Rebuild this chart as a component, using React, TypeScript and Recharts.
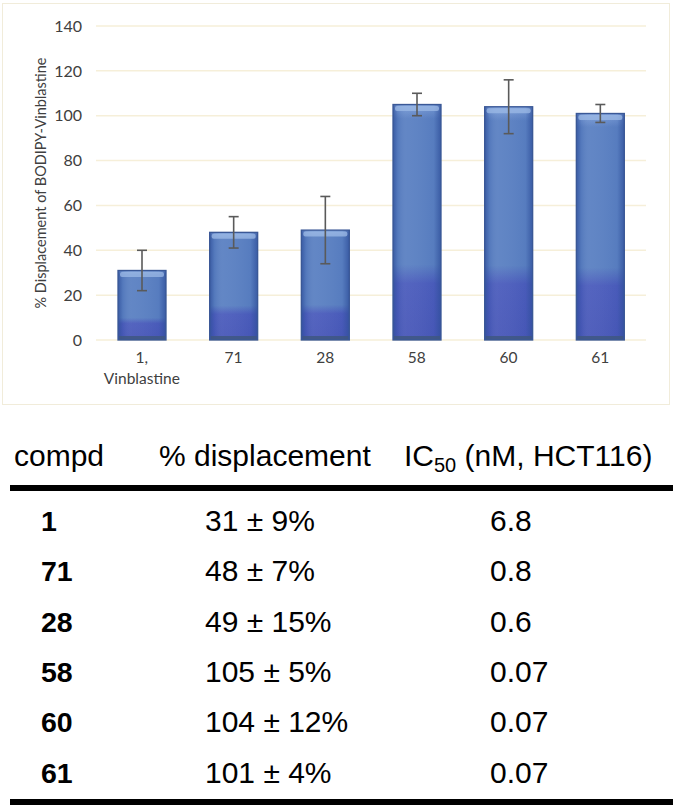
import React from "react";
import { BarChart, Bar, XAxis, YAxis, CartesianGrid, ErrorBar } from "recharts";

const categories = ["1,\nVinblastine", "71", "28", "58", "60", "61"];
const compounds = ["1", "71", "28", "58", "60", "61"];
const displacement = [31, 48, 49, 105, 104, 101];
const displacementErr = [9, 7, 15, 5, 12, 4];
const ic50 = ["6.8", "0.8", "0.6", "0.07", "0.07", "0.07"];
const yTicks = [0, 20, 40, 60, 80, 100, 120, 140];

const chartData = categories.map((c, i) => ({ name: c, value: displacement[i], err: displacementErr[i] }));

const tickFont = "Lato, 'Open Sans', sans-serif";
const tableFont = "'Liberation Sans', Arial, sans-serif";

function XTick(props: any) {
  const { x, y, payload } = props;
  const lines = String(payload.value).split("\n");
  return (
    <text x={x} y={y} textAnchor="middle" fill="#404040" fontSize={15.5} fontFamily={tickFont}>
      {lines.map((l, i) => (
        <tspan key={i} x={x} dy={i === 0 ? 15 : 21}>{l}</tspan>
      ))}
    </text>
  );
}

function YLabel(props: any) {
  const vb = props.viewBox || {};
  const cx = vb.x - 6;
  const cy = vb.y + vb.height / 2;
  return (
    <text x={cx} y={cy} transform={`rotate(-90, ${cx}, ${cy})`} textAnchor="middle" dominantBaseline="central"
      fill="#404040" fontSize={14.5} fontFamily={tickFont}>
      % Displacement of BODIPY-Vinblastine
    </text>
  );
}

function BarShape(p: any) {
  const { x, y, width, height } = p;
  if (!height || height <= 0) return null;
  return (
    <g>
      <rect x={x} y={y} width={width} height={height} fill="url(#barFill)" />
      <rect x={x} y={y} width={width} height={height} fill="url(#barSides)" />
      <rect x={x + 2} y={y + 1.5} width={width - 4} height={5} rx={2} fill="#9cb9e6" opacity={0.75} />
      <rect x={x + 1} y={y + height - 4} width={width - 2} height={4} fill="#3e5781" opacity={0.85} />
      <rect x={x} y={y} width={width} height={height} fill="none" stroke="#3a5896" strokeWidth={1.3} />
    </g>
  );
}

function Row({ top, children }: { top: number; children: React.ReactNode }) {
  return <div style={{ position: "absolute", left: 0, top, width: 677, height: 50, lineHeight: "50px" }}>{children}</div>;
}

export default function App() {
  const rowTop = 496;
  const rowStep = 50.3;
  return (
    <div style={{ position: "absolute", left: 0, top: 0, width: 677, height: 807, background: "#fff", overflow: "hidden" }}>
      <div style={{ position: "absolute", left: 2, top: 3, width: 668, height: 402, border: "1px solid #f1ecda", boxSizing: "border-box" }} />
      <div style={{ position: "absolute", left: 0, top: 0 }}>
        <BarChart width={677} height={410} data={chartData} margin={{ top: 26, right: 31, left: 46, bottom: 20 }}
          barCategoryGap="24%">
          <defs>
            <linearGradient id="barFill" x1="0" y1="0" x2="0" y2="1">
              <stop offset="0%" stopColor="#7c9ed8" />
              <stop offset="6%" stopColor="#5a80c2" />
              <stop offset="68%" stopColor="#5a80c2" />
              <stop offset="76%" stopColor="#4b5cbc" />
              <stop offset="100%" stopColor="#4857b8" />
            </linearGradient>
            <linearGradient id="barSides" x1="0" y1="0" x2="1" y2="0">
              <stop offset="0%" stopColor="#2f4f9a" stopOpacity={0.75} />
              <stop offset="10%" stopColor="#2f4f9a" stopOpacity={0.15} />
              <stop offset="30%" stopColor="#ffffff" stopOpacity={0.05} />
              <stop offset="85%" stopColor="#2f4f9a" stopOpacity={0.08} />
              <stop offset="100%" stopColor="#2f4f9a" stopOpacity={0.75} />
            </linearGradient>
          </defs>
          <CartesianGrid vertical={false} stroke="#f6efd9" strokeWidth={1.5} />
          <XAxis dataKey="name" axisLine={false} tickLine={false} height={50} interval={0} tick={<XTick />} />
          <YAxis domain={[0, 140]} ticks={yTicks} width={50} axisLine={false} tickLine={false} tickSize={0} tickMargin={14}
            tick={{ fill: "#404040", fontSize: 16, fontFamily: tickFont }} label={<YLabel />} />
          <Bar dataKey="value" isAnimationActive={false} shape={<BarShape />}>
            <ErrorBar dataKey="err" width={5} stroke="#5a5a5a" strokeWidth={1.6} direction="y" isAnimationActive={false} />
          </Bar>
        </BarChart>
      </div>

      {/* table */}
      <div style={{ position: "absolute", left: 0, top: 436, width: 677, height: 40, lineHeight: "40px", fontFamily: tableFont, fontSize: 30, color: "#000" }}>
        <span style={{ position: "absolute", left: 14 }}>compd</span>
        <span style={{ position: "absolute", left: 159 }}>% displacement</span>
        <span style={{ position: "absolute", left: 404 }}>
          IC<sub style={{ fontSize: 20, verticalAlign: "-6px", lineHeight: 0 }}>50</sub> (nM, HCT116)
        </span>
      </div>
      <div style={{ position: "absolute", left: 10, top: 485, width: 663, height: 6, background: "#000" }} />
      <div style={{ fontFamily: tableFont, fontSize: 30, color: "#000" }}>
        {compounds.map((c, i) => (
          <Row key={c} top={rowTop + i * rowStep}>
            <span style={{ position: "absolute", left: 41, fontWeight: "bold", fontSize: 28.5 }}>{c}</span>
            <span style={{ position: "absolute", left: 205 }}>{`${displacement[i]} ± ${displacementErr[i]}%`}</span>
            <span style={{ position: "absolute", left: 490 }}>{ic50[i]}</span>
          </Row>
        ))}
      </div>
      <div style={{ position: "absolute", left: 10, top: 799, width: 663, height: 6, background: "#000" }} />
    </div>
  );
}
